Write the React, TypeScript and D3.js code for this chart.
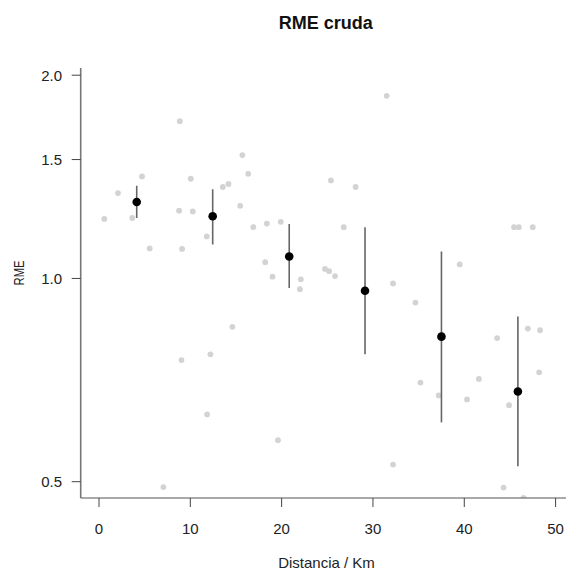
import React from "react";
import * as d3 from "d3";

const rawX = [0.58, 2.08, 3.65, 4.71, 5.55, 7.05, 8.77, 8.85, 9.03, 9.1, 10.05, 10.27, 11.8, 11.84, 12.2, 13.56, 14.18, 14.6, 15.46, 15.7, 16.34, 16.9, 18.2, 18.38, 19.0, 19.6, 19.9, 22.0, 22.1, 24.75, 25.2, 25.4, 25.85, 26.8, 28.1, 31.5, 32.2, 32.2, 34.65, 35.2, 37.2, 39.5, 40.3, 41.6, 43.6, 44.3, 44.9, 45.45, 45.97, 46.5, 46.96, 47.5, 48.2, 48.3];
const rawY = [1.225, 1.338, 1.229, 1.416, 1.108, 0.491, 1.26, 1.71, 0.757, 1.106, 1.405, 1.257, 1.154, 0.629, 0.772, 1.366, 1.38, 0.848, 1.281, 1.523, 1.429, 1.191, 1.057, 1.206, 1.006, 0.576, 1.213, 0.964, 0.997, 1.033, 1.025, 1.397, 1.008, 1.191, 1.366, 1.864, 0.983, 0.53, 0.921, 0.701, 0.671, 1.049, 0.662, 0.71, 0.816, 0.49, 0.649, 1.191, 1.191, 0.473, 0.843, 1.191, 0.726, 0.838];

const binX = [4.13, 12.45, 20.83, 29.13, 37.5, 45.87];
const binMean = [1.298, 1.236, 1.078, 0.959, 0.82, 0.68];
const binLo = [1.229, 1.123, 0.968, 0.772, 0.612, 0.527];
const binHi = [1.372, 1.356, 1.204, 1.191, 1.096, 0.878];

const xTicks = [0, 10, 20, 30, 40, 50];
const yTicks = [0.5, 1.0, 1.5, 2.0];

const W = 566, H = 570;
const left = 80.7, right = 570.7, top = 68, bottom = 498;
const font = "'Liberation Sans', Arial, Helvetica, sans-serif";

export default function App() {
  const x = d3.scaleLinear().domain([0, 50]).range([99, 555.6]);
  const y = d3.scaleLog().domain([0.5, 2.0]).range([481.7, 75.2]);

  return (
    <svg width={W} height={H} style={{ position: "absolute", left: 0, top: 0, background: "#fff" }} fontFamily={font}>
      <defs>
        <clipPath id="plotclip">
          <rect x={left} y={top} width={right - left} height={bottom - top} />
        </clipPath>
      </defs>
      <text x={325.7} y={29} textAnchor="middle" fontSize={18} fontWeight="bold" fill="#111">RME cruda</text>

      <g clipPath="url(#plotclip)">
        {rawX.map((d, i) => (
          <circle key={i} cx={x(d)} cy={y(rawY[i])} r={2.9} fill="#d3d3d3" />
        ))}
        {binX.map((d, i) => (
          <line key={"e" + i} x1={x(d)} x2={x(d)} y1={y(binLo[i])} y2={y(binHi[i])} stroke="#666" strokeWidth={1.6} />
        ))}
        {binX.map((d, i) => (
          <circle key={"m" + i} cx={x(d)} cy={y(binMean[i])} r={4.3} fill="#000" />
        ))}
      </g>

      {/* L-box */}
      <line x1={left} x2={left} y1={top} y2={bottom} stroke="#777" strokeWidth={1.6} />
      <line x1={left} x2={right} y1={bottom} y2={bottom} stroke="#555" strokeWidth={1.2} />

      {/* x axis */}
      {xTicks.map((t) => (
        <g key={"xt" + t}>
          <line x1={x(t)} x2={x(t)} y1={bottom} y2={bottom + 9} stroke="#444" strokeWidth={1} />
          <text x={x(t)} y={533.5} textAnchor="middle" fontSize={15} fill="#222">{t}</text>
        </g>
      ))}
      <text x={326.5} y={568} textAnchor="middle" fontSize={15} fill="#222">Distancia / Km</text>

      {/* y axis */}
      {yTicks.map((t) => (
        <g key={"yt" + t}>
          <line x1={left - 9} x2={left} y1={y(t)} y2={y(t)} stroke="#444" strokeWidth={1} />
          <text x={62} y={y(t) + 5.4} textAnchor="end" fontSize={15} fill="#222">{t.toFixed(1)}</text>
        </g>
      ))}
      <text transform={`translate(23.5,273) rotate(-90) scale(0.75,1)`} textAnchor="middle" fontSize={15} fill="#222">RME</text>
    </svg>
  );
}
